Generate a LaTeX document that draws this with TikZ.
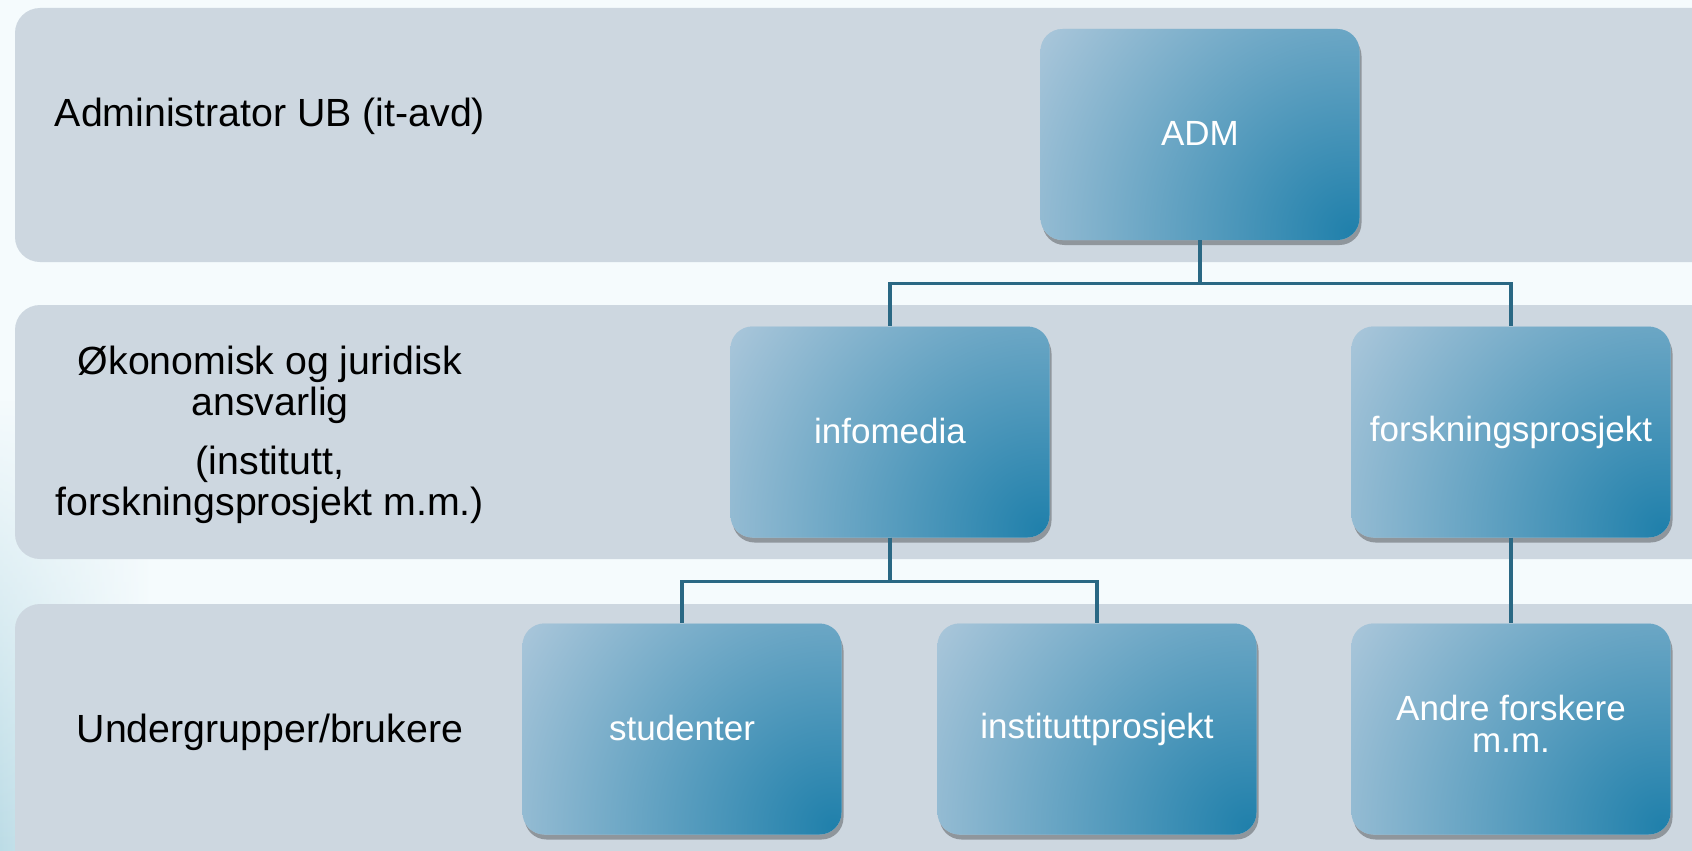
\documentclass[tikz,border=0pt]{standalone}
\usepackage{fontspec}
\setmainfont{Liberation Sans}
\usetikzlibrary{shadows,fadings}
\definecolor{bgc}{HTML}{F5FBFD}
\definecolor{bandc}{HTML}{CDD7E0}
\definecolor{boxdark}{HTML}{2080AB}
\definecolor{boxlight}{HTML}{AFC9DC}
\definecolor{connc}{HTML}{2A6884}
\definecolor{cyanlight}{HTML}{BCDCE6}
\begin{document}
\begin{tikzpicture}[x=1pt,y=-1pt,
  bandbox/.style={fill=bandc, rounded corners=25pt},
  orgbox/.style={rectangle, rounded corners=22pt, minimum width=319pt, minimum height=211pt,
    fill=boxlight,
    path picture={\shade[inner color=boxdark, outer color=boxlight]
      ([xshift=-8pt,yshift=8pt]path picture bounding box.south east) circle (385pt);},
    text=white, font=\fontsize{35}{35}\selectfont, align=center,
    drop shadow={shadow xshift=2pt, shadow yshift=-5pt, fill=black, opacity=0.3}},
  lbl/.style={font=\fontsize{39.3}{41}\selectfont, align=center, text=black},
  connline/.style={draw=connc, line width=3.2pt}]
\useasboundingbox (0,0) rectangle (1692,851);
\fill[bgc] (0,0) rectangle (1692,851);
\shade[left color=cyanlight, right color=bgc, path fading=north] (0,400) rectangle (150,851);
% bands
\path[bandbox] (15,8) rectangle (1730,262);
\path[bandbox] (15,305) rectangle (1730,559);
\path[bandbox] (15,604) rectangle (1730,890);
% labels
\node[lbl] (l1) at (270,116) {Administrator UB (it-avd)};
\node[lbl] (l2) at (270,435) {Økonomisk og juridisk\\ansvarlig\\[18pt](institutt,\\forskningsprosjekt m.m.)};
\node[lbl] (l3) at (270,732) {Undergrupper/brukere};
% boxes
\node[orgbox] (adm) at (1200,134.5) {\raisebox{2.5pt}{ADM}};
\node[orgbox] (info) at (890,432) {\raisebox{2pt}{infomedia}};
\node[orgbox] (forsk) at (1511,432) {\raisebox{2pt}{forskningsprosjekt}};
\node[orgbox] (stud) at (682,729) {\raisebox{2pt}{studenter}};
\node[orgbox] (inst) at (1097,729) {\raisebox{2pt}{instituttprosjekt}};
\node[orgbox] (andre) at (1511,729) {\raisebox{2pt}{\begin{tabular}{@{}c@{}}Andre forskere\\[-3pt]m.m.\end{tabular}}};
% connectors
\draw[connline] (adm.south) -- ++(0,43.5) -| (info.north);
\draw[connline] (adm.south) -- ++(0,43.5) -| (forsk.north);
\draw[connline] (info.south) -- ++(0,43.5) -| (stud.north);
\draw[connline] (info.south) -- ++(0,43.5) -| (inst.north);
\draw[connline] (forsk.south) -- (andre.north);
\end{tikzpicture}
\end{document}
